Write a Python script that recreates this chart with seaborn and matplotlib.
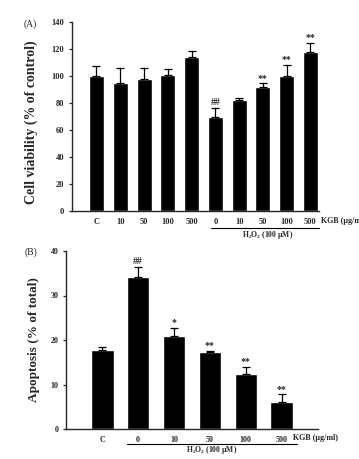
import numpy as np
import pandas as pd
import seaborn as sns
import matplotlib.pyplot as plt
import matplotlib.transforms as mtransforms

sns.set_style('ticks')
plt.rcParams['font.family'] = ['Liberation Serif', 'DejaVu Serif']
plt.rcParams['mathtext.fontset'] = 'custom'
plt.rcParams['mathtext.rm'] = 'Liberation Serif'
plt.rcParams['mathtext.bf'] = 'Liberation Serif:bold'

# panel A: cell viability
a_keys = ['C', 'k10', 'k50', 'k100', 'k500', 'h0', 'h10', 'h50', 'h100', 'h500']
a_labels = ['C', '10', '50', '100', '500', '0', '10', '50', '100', '500']
a_mean = [100, 95, 98, 100.5, 114, 69.5, 82, 92, 100, 118]
a_sd = [7.5, 11, 8, 5, 4.5, 7, 1.5, 2.5, 8.5, 6.5]
a_marks = ['', '', '', '', '', '##', '', '**', '**', '**']

# panel B: apoptosis
b_keys = ['C', 'h0', 'h10', 'h50', 'h100', 'h500']
b_labels = ['C', '0', '10', '50', '100', '500']
b_mean = [17.7, 34.2, 20.9, 17.2, 12.4, 6.0]
b_sd = [0.8, 2.2, 1.9, 0.4, 1.6, 1.8]
b_marks = ['', '##', '*', '**', '**', '**']

fig = plt.figure(figsize=(3.59, 4.59), dpi=100)
W, H = 359, 459
axA = fig.add_axes([72 / W, 1 - 211 / H, (319 - 72) / W, (211 - 22) / H])
axB = fig.add_axes([66 / W, 1 - 429 / H, (318 - 66) / W, (429 - 251) / H])


def panel(ax, keys, labels, mean, sd, marks, ylim, step, ylabel, xlim,
          lfs, tfs, lpos):
    df = pd.DataFrame({'group': keys, 'value': mean})
    sns.barplot(data=df, x='group', y='value', order=keys, color='black',
                width=0.63, errorbar=None, ax=ax, saturation=1)
    x = np.arange(len(keys))
    ax.errorbar(x, mean, yerr=[np.zeros(len(sd)), sd], fmt='none',
                ecolor='black', elinewidth=0.9, capsize=2.6, capthick=0.9)
    for xi, m, s, t in zip(x, mean, sd, marks):
        if t:
            ax.text(xi, m + s + ylim * 0.004, t, ha='center', va='bottom',
                    fontsize=7, fontweight='bold')
    ax.set_ylim(0, ylim)
    ax.set_yticks(np.arange(0, ylim + 1, step))
    ax.set_xlim(*xlim)
    ax.set_xticks(x)
    ax.set_xticklabels(labels)
    ax.set_xlabel('')
    ax.set_ylabel(ylabel, fontsize=lfs, fontweight='bold')
    ax.yaxis.set_label_coords(*lpos)
    for s in ['top', 'right']:
        ax.spines[s].set_visible(False)
    for s in ['left', 'bottom']:
        ax.spines[s].set_linewidth(1.0)
    ax.tick_params(axis='y', length=2.5, width=0.9, labelsize=tfs, pad=3)
    ax.tick_params(axis='x', length=0, labelsize=tfs, pad=5)
    for lab in ax.get_xticklabels() + ax.get_yticklabels():
        lab.set_fontweight('bold')


panel(axA, a_keys, a_labels, a_mean, a_sd, a_marks, 140, 20,
      'Cell viability (% of control)', (-1.03, 9.36), 10, 6, (-0.138, 0.47))
panel(axB, b_keys, b_labels, b_mean, b_sd, b_marks, 40, 10,
      'Apoptosis (% of total)', (-1.01, 6.01), 9.5, 5.8, (-0.103, 0.5))

# group annotations under the x axis
for ax, x0, x1, xk, yk, ylin, ytxt, xt in [
        (axA, 4.83, 9.34, 9.43, -0.053, -0.09, -0.127, 7.19),
        (axB, 0.70, 5.42, 5.31, -0.05, -0.084, -0.118, 3.06)]:
    tr = mtransforms.blended_transform_factory(ax.transData, ax.transAxes)
    ax.plot([x0, x1], [ylin, ylin], color='black', lw=0.8, transform=tr,
            clip_on=False)
    ax.text(xt, ytxt, r'$\mathbf{H_2O_2}$ (100 $\mathbf{\mu}$M)', transform=tr,
            ha='center', va='center', fontsize=5.5, fontweight='bold')
    ax.text(xk, yk, 'KGB (\u03bcg/ml)', transform=tr, ha='left',
            va='center', fontsize=5.8, fontweight='bold', clip_on=False)

fig.text(30 / W, 1 - 24 / H, '(A)', fontsize=7, ha='center', va='center')
fig.text(31 / W, 1 - 252 / H, '(B)', fontsize=7, ha='center', va='center')

fig.savefig('out.png', dpi=100)
